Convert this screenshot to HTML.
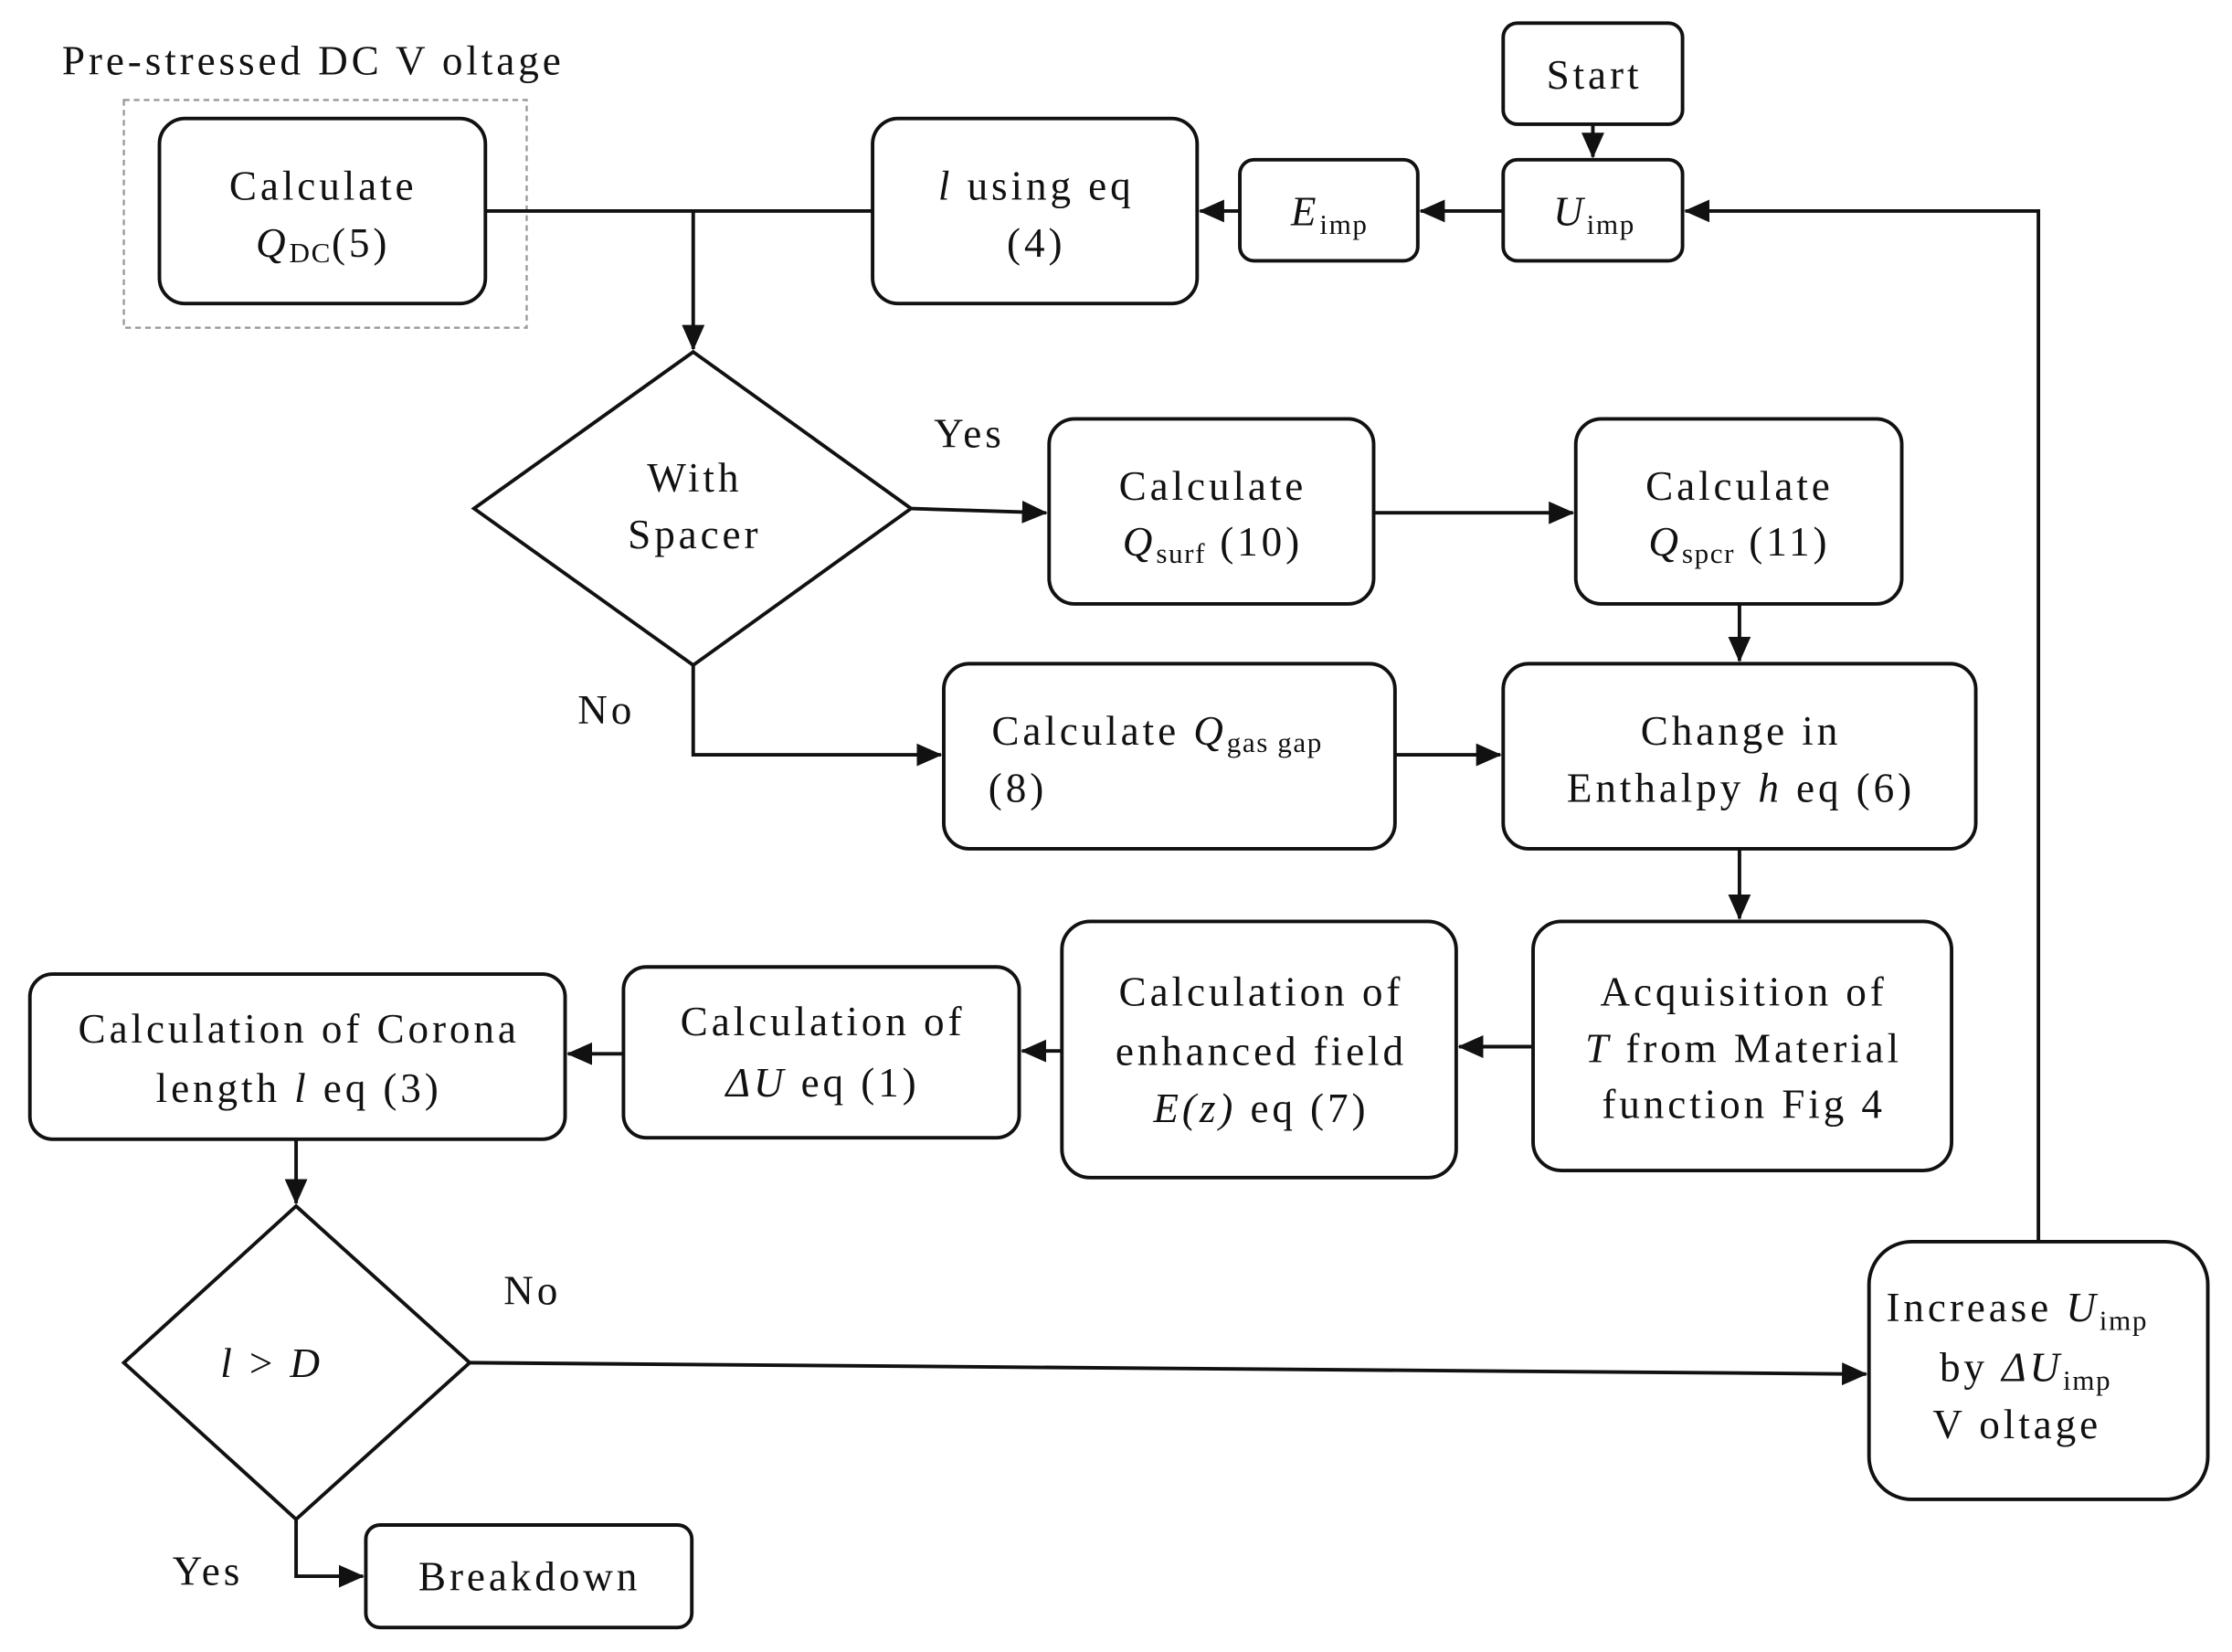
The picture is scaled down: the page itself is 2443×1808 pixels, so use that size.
<!DOCTYPE html>
<html><head><meta charset="utf-8"><style>
html,body{margin:0;padding:0;background:#fff;}
svg{display:block;}
text{font-family:"Liberation Serif",serif;font-size:29px;fill:#111;text-anchor:middle;letter-spacing:2.5px;}
.s{font-size:20px;letter-spacing:1px;}
</style></head><body>
<svg width="2443" height="1808" viewBox="0 0 1568 1160" xmlns="http://www.w3.org/2000/svg">
<defs>
<marker id="b" markerWidth="18" markerHeight="16" refX="17" refY="8" orient="auto" markerUnits="userSpaceOnUse" viewBox="0 0 18 16"><path d="M0,0 L18,8 L0,16 z" fill="#111"/></marker></defs>
<g fill="none" stroke="#111" stroke-width="2.5">
<rect x="87" y="70" width="283" height="160" stroke="#999" stroke-width="1.5" stroke-dasharray="4,3"/>
<rect x="1056" y="16" width="126" height="71" rx="10"/>
<rect x="1056" y="112" width="126" height="71" rx="10"/>
<rect x="871" y="112" width="125" height="71" rx="10"/>
<rect x="613" y="83" width="228" height="130" rx="18"/>
<rect x="112" y="83" width="229" height="130" rx="18"/>
<polygon points="487,247 640,357 487,467 333,357"/>
<rect x="737" y="294" width="228" height="130" rx="18"/>
<rect x="1107" y="294" width="229" height="130" rx="18"/>
<rect x="663" y="466" width="317" height="130" rx="18"/>
<rect x="1056" y="466" width="332" height="130" rx="18"/>
<rect x="1077" y="647" width="294" height="175" rx="20"/>
<rect x="746" y="647" width="277" height="180" rx="20"/>
<rect x="438" y="679" width="278" height="120" rx="16"/>
<rect x="21" y="684" width="376" height="116" rx="16"/>
<polygon points="208,847 330,957 208,1067 87,957"/>
<rect x="1313" y="872" width="238" height="181" rx="30"/>
<rect x="257" y="1071" width="229" height="72" rx="10"/>
</g>
<g fill="none" stroke="#111" stroke-width="2.5">
<path d="M1119,87 V110" marker-end="url(#b)"/>
<path d="M1056,148 H998" marker-end="url(#b)"/>
<path d="M871,148 H843" marker-end="url(#b)"/>
<path d="M341,148 H613"/>
<path d="M487,148 V245" marker-end="url(#b)"/>
<path d="M640,357 L735,360" marker-end="url(#b)"/>
<path d="M965,360 H1105" marker-end="url(#b)"/>
<path d="M1222,424 V464" marker-end="url(#b)"/>
<path d="M487,467 V530 H661" marker-end="url(#b)"/>
<path d="M980,530 H1054" marker-end="url(#b)"/>
<path d="M1222,596 V645" marker-end="url(#b)"/>
<path d="M1077,735 H1025" marker-end="url(#b)"/>
<path d="M746,738 H718" marker-end="url(#b)"/>
<path d="M438,740 H399" marker-end="url(#b)"/>
<path d="M208,800 V845" marker-end="url(#b)"/>
<path d="M330,957 L1311,965" marker-end="url(#b)"/>
<path d="M1432,872 V148 H1184" marker-end="url(#b)"/>
<path d="M208,1067 V1107 H255" marker-end="url(#b)"/>
</g>
<text x="220" y="52">Pre-stressed DC V oltage</text>
<text x="1120" y="62">Start</text>
<text x="1120" y="158"><tspan font-style="italic">U</tspan><tspan class="s" dy="6">imp</tspan></text>
<text x="934" y="158"><tspan font-style="italic">E</tspan><tspan class="s" dy="6">imp</tspan></text>
<text x="728" y="140"><tspan font-style="italic">l</tspan> using eq</text>
<text x="728" y="180">(4)</text>
<text x="227" y="140">Calculate</text>
<text x="227" y="180"><tspan font-style="italic">Q</tspan><tspan class="s" dy="4">DC</tspan><tspan dy="-4">(5)</tspan></text>
<text x="488" y="345">With</text>
<text x="488" y="385">Spacer</text>
<text x="681" y="314">Yes</text>
<text x="426" y="508">No</text>
<text x="852" y="351">Calculate</text>
<text x="852" y="390"><tspan font-style="italic">Q</tspan><tspan class="s" dy="5">surf</tspan><tspan dy="-5"> (10)</tspan></text>
<text x="1222" y="351">Calculate</text>
<text x="1222" y="390"><tspan font-style="italic">Q</tspan><tspan class="s" dy="5">spcr</tspan><tspan dy="-5"> (11)</tspan></text>
<text x="813" y="523">Calculate <tspan font-style="italic">Q</tspan><tspan class="s" dy="5">gas gap</tspan></text>
<text x="715" y="563">(8)</text>
<text x="1223" y="523">Change in</text>
<text x="1223" y="563">Enthalpy <tspan font-style="italic">h</tspan> eq (6)</text>
<text x="1225" y="706">Acquisition of</text>
<text x="1225" y="746"><tspan font-style="italic">T</tspan> from Material</text>
<text x="1225" y="785">function Fig 4</text>
<text x="886" y="706">Calculation of</text>
<text x="886" y="748">enhanced field</text>
<text x="886" y="788"><tspan font-style="italic">E(z)</tspan> eq (7)</text>
<text x="578" y="727">Calculation of</text>
<text x="578" y="770"><tspan font-style="italic">ΔU</tspan> eq (1)</text>
<text x="210" y="732">Calculation of Corona</text>
<text x="210" y="774">length <tspan font-style="italic">l</tspan> eq (3)</text>
<text x="191" y="967"><tspan font-style="italic">l</tspan> &gt; <tspan font-style="italic">D</tspan></text>
<text x="374" y="916">No</text>
<text x="146" y="1113">Yes</text>
<text x="372" y="1117">Breakdown</text>
<text x="1417" y="928">Increase <tspan font-style="italic">U</tspan><tspan class="s" dy="6">imp</tspan></text>
<text x="1423" y="970">by <tspan font-style="italic">ΔU</tspan><tspan class="s" dy="6">imp</tspan></text>
<text x="1417" y="1010">V oltage</text>
</svg>
</body></html>
